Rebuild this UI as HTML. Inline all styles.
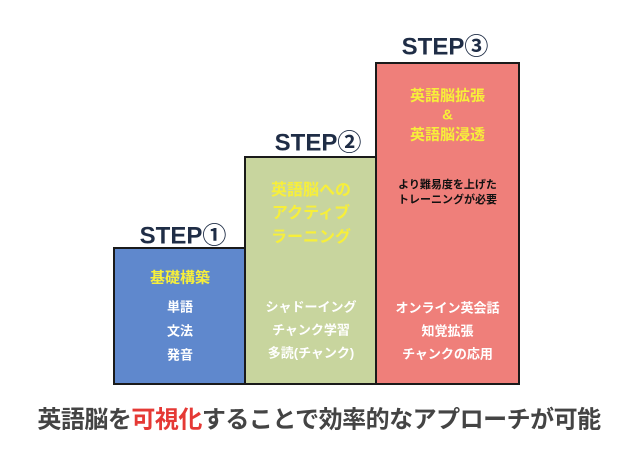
<!DOCTYPE html>
<html><head><meta charset="utf-8"><style>
body{margin:0;width:638px;height:472px;background:#fff;position:relative;overflow:hidden;font-family:"Liberation Sans","Noto Sans CJK JP",sans-serif;font-weight:bold}
.b{position:absolute;border:2px solid #1a1a1a;box-sizing:border-box}
.t{position:absolute;left:0;right:0;text-align:center;white-space:nowrap;transform:translateY(-50%)}
.y{color:#f7ef3a}.w{color:#fff}
.s{position:absolute;color:#1f2d46;font-size:24px;transform:translate(-50%,-50%);white-space:nowrap}
</style></head><body>
<div class="s" style="left:183px;top:233px">STEP①</div>
<div class="s" style="left:318px;top:140px">STEP②</div>
<div class="s" style="left:445px;top:44px">STEP③</div>
<div class="b" style="left:113px;top:247px;width:134px;height:138px;background:#5f88cd">
<div class="t y" style="top:28px;font-size:15px">基礎構築</div>
<div class="t w" style="top:57px;font-size:13px">単語</div>
<div class="t w" style="top:81px;font-size:13px">文法</div>
<div class="t w" style="top:105px;font-size:13px">発音</div>
</div>
<div class="b" style="left:244px;top:156px;width:134px;height:229px;background:#c8d59e">
<div class="t y" style="top:30px;font-size:16px">英語脳への</div>
<div class="t y" style="top:53px;font-size:16px">アクティブ</div>
<div class="t y" style="top:77px;font-size:16px">ラーニング</div>
<div class="t w" style="top:148px;font-size:13px">シャドーイング</div>
<div class="t w" style="top:171px;font-size:13px">チャンク学習</div>
<div class="t w" style="top:194px;font-size:13px">多読(チャンク)</div>
</div>
<div class="b" style="left:375px;top:62px;width:145px;height:323px;background:#ef7f7a">
<div class="t y" style="top:31px;font-size:15px">英語脳拡張</div>
<div class="t y" style="top:51px;font-size:15px">&amp;</div>
<div class="t y" style="top:70px;font-size:15px">英語脳浸透</div>
<div class="t" style="top:120px;font-size:11px;color:#111">より難易度を上げた</div>
<div class="t" style="top:135px;font-size:11px;color:#111">トレーニングが必要</div>
<div class="t w" style="top:243px;font-size:13px">オンライン英会話</div>
<div class="t w" style="top:266px;font-size:13px">知覚拡張</div>
<div class="t w" style="top:289px;font-size:13px">チャンクの応用</div>
</div>
<div style="position:absolute;left:0;right:0;top:417px;transform:translateY(-50%);text-align:center;font-size:24px;letter-spacing:-0.5px;color:#444;white-space:nowrap">英語脳を<span style="color:#e53935">可視化</span>することで効率的なアプローチが可能</div>
</body></html>
